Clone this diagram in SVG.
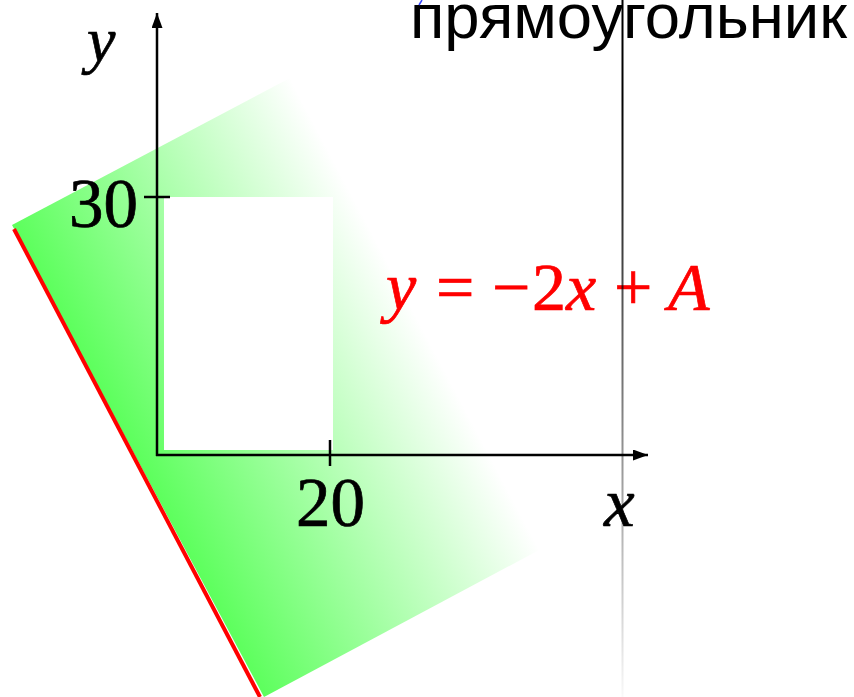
<svg xmlns="http://www.w3.org/2000/svg" width="854" height="697" viewBox="0 0 854 697">
  <defs>
    <linearGradient id="greenFade" gradientUnits="userSpaceOnUse" x1="12" y1="225" x2="290" y2="78">
      <stop offset="0" stop-color="#5cff5c" stop-opacity="1"/>
      <stop offset="1" stop-color="#5cff5c" stop-opacity="0"/>
    </linearGradient>
    <linearGradient id="lineFade" gradientUnits="userSpaceOnUse" x1="0" y1="0" x2="0" y2="712">
      <stop offset="0" stop-color="#000" stop-opacity="1"/>
      <stop offset="0.14" stop-color="#000" stop-opacity="1"/>
      <stop offset="1" stop-color="#000" stop-opacity="0"/>
    </linearGradient>
    <marker id="arrow" markerUnits="userSpaceOnUse" markerWidth="16" markerHeight="12" refX="15" refY="5.5" orient="auto">
      <path d="M0,0 L15,5.5 L0,11 Z" fill="#000"/>
    </marker>
  </defs>
  <style>
    .axis { stroke: #000; stroke-width: 2.5; fill: none; }
    .tick { stroke: #000; stroke-width: 2.5; }
    .math { font-family: "Liberation Serif", "Times New Roman", serif; }
    .it { font-style: italic; }
    .lbl { font-size: 69px; fill: #000; stroke: #000; stroke-width: 0.7; }
    .formula { font-size: 68px; fill: #ff0000; stroke: #ff0000; stroke-width: 0.7; }
    .title { font-family: "Liberation Sans", Arial, sans-serif; font-size: 63px; fill: #000; }
  </style>

  <g id="feasible-region">
    <polygon points="12,225 290,78 541,549 264,697" fill="url(#greenFade)"/>
  </g>

  <g id="rectangle">
    <rect x="164" y="197" width="169" height="253" fill="#ffffff"/>
  </g>

  <g id="connectors">
    <line class="axis" x1="157" y1="456" x2="157" y2="13" marker-end="url(#arrow)"/>
    <line class="axis" x1="156" y1="455" x2="648" y2="455" marker-end="url(#arrow)"/>
    <line class="tick" x1="144" y1="197" x2="170" y2="197"/>
    <line class="tick" x1="330" y1="440" x2="330" y2="466"/>
  </g>

  <g id="axis-labels">
    <text class="math it lbl" x="87" y="61" style="font-size:64px">y</text>
    <text class="math lbl" x="69" y="227">30</text>
    <text class="math lbl" x="296" y="526">20</text>
    <text class="math it lbl" x="604" y="526">x</text>
  </g>

  <g id="red-line">
    <line x1="14" y1="229" x2="260" y2="697" stroke="#ff0000" stroke-width="4"/>
  </g>

  <g id="formula">
    <text class="math formula" y="310"><tspan class="it" x="386">y</tspan><tspan x="436">=</tspan><tspan x="492">−</tspan><tspan x="532">2</tspan><tspan class="it" x="566">x</tspan><tspan x="614">+</tspan><tspan class="it" x="668">A</tspan></text>
  </g>

  <g id="title">
    <text class="title" x="410" y="38" textLength="437" lengthAdjust="spacingAndGlyphs">прямоугольник</text>
    <path d="M419,5 L422,0" stroke="#3344ff" stroke-width="1.5" fill="none"/>
  </g>

  <g id="vertical-line">
    <line x1="622.5" y1="0" x2="622.5" y2="697" stroke="url(#lineFade)" stroke-width="2"/>
  </g>
</svg>
